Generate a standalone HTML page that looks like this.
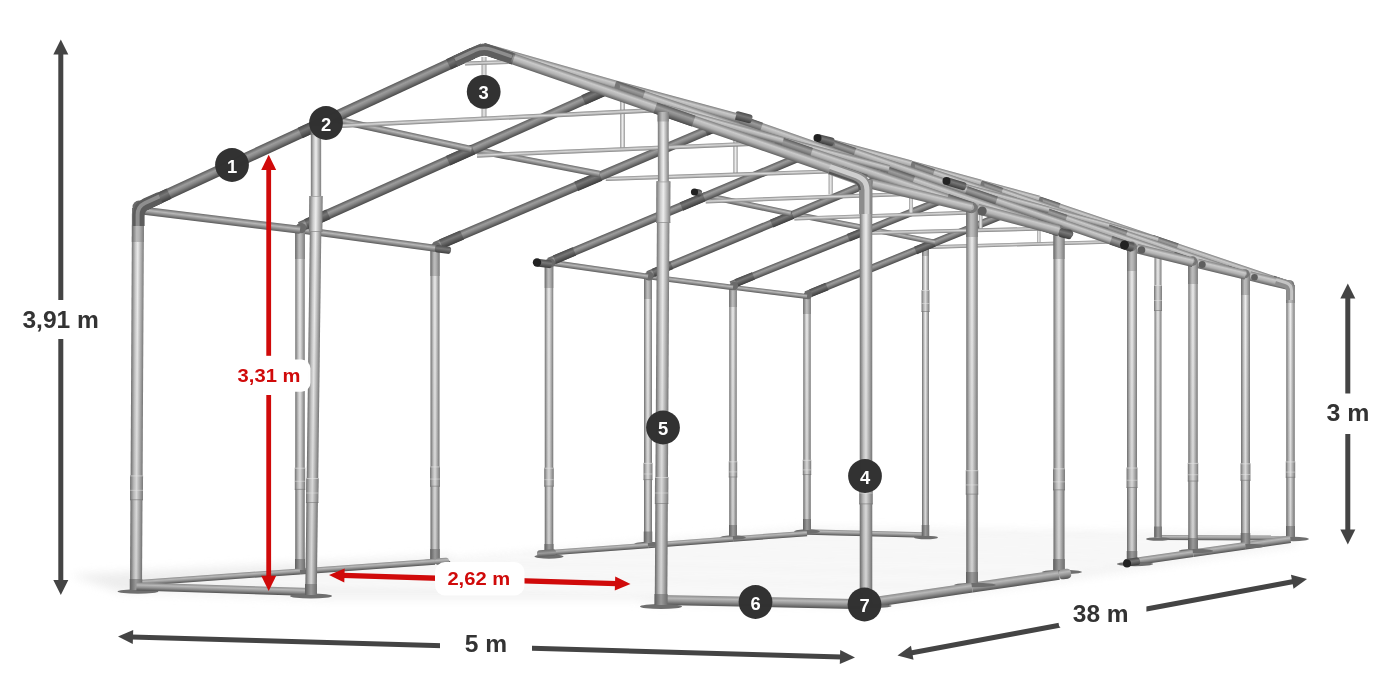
<!DOCTYPE html>
<html><head><meta charset="utf-8"><title>3,91 m</title>
<style>
html,body{margin:0;padding:0;background:#fff}
body{width:1400px;height:700px;overflow:hidden}
svg{display:block}
text{font-family:"Liberation Sans",sans-serif;font-weight:bold}
#labels{opacity:.999}
</style></head><body>
<svg width="1400" height="700" viewBox="0 0 1400 700">
<defs>
<linearGradient id="g_dark" x1="0" y1="0" x2="0" y2="1"><stop offset="0" stop-color="#5a5a5a"/><stop offset="0.35" stop-color="#9c9c9c"/><stop offset="0.55" stop-color="#8a8a8a"/><stop offset="1" stop-color="#4a4a4a"/></linearGradient>
<linearGradient id="g_joint" x1="0" y1="0" x2="0" y2="1"><stop offset="0" stop-color="#4a4a4a"/><stop offset="0.4" stop-color="#777"/><stop offset="1" stop-color="#3c3c3c"/></linearGradient>
<linearGradient id="g_rafr" x1="0" y1="0" x2="0" y2="1"><stop offset="0" stop-color="#808080"/><stop offset="0.3" stop-color="#cacaca"/><stop offset="0.6" stop-color="#b0b0b0"/><stop offset="1" stop-color="#626262"/></linearGradient>
<linearGradient id="g_eave" x1="0" y1="0" x2="0" y2="1"><stop offset="0" stop-color="#6a6a6a"/><stop offset="0.4" stop-color="#b8b8b8"/><stop offset="1" stop-color="#5c5c5c"/></linearGradient>
<linearGradient id="g_ground" x1="0" y1="0" x2="0" y2="1"><stop offset="0" stop-color="#8c8c8c"/><stop offset="0.3" stop-color="#b8b8b8"/><stop offset="0.6" stop-color="#929292"/><stop offset="1" stop-color="#525252"/></linearGradient>
<linearGradient id="g_tie" x1="0" y1="0" x2="0" y2="1"><stop offset="0" stop-color="#8a8a8a"/><stop offset="0.45" stop-color="#d8d8d8"/><stop offset="1" stop-color="#808080"/></linearGradient>
<linearGradient id="g_tiev" x1="0" y1="0" x2="0" y2="1"><stop offset="0" stop-color="#9a9a9a"/><stop offset="0.5" stop-color="#ececec"/><stop offset="1" stop-color="#9a9a9a"/></linearGradient>
<linearGradient id="g_post" x1="0" y1="0" x2="0" y2="1"><stop offset="0" stop-color="#7c7c7c"/><stop offset="0.22" stop-color="#b0b0b0"/><stop offset="0.5" stop-color="#ededed"/><stop offset="0.7" stop-color="#cacaca"/><stop offset="1" stop-color="#747474"/></linearGradient>
<linearGradient id="g_sleeve" x1="0" y1="0" x2="0" y2="1"><stop offset="0" stop-color="#7c7c7c"/><stop offset="0.4" stop-color="#b4b4b4"/><stop offset="0.6" stop-color="#bcbcbc"/><stop offset="1" stop-color="#6a6a6a"/></linearGradient>
<linearGradient id="g_ring" x1="0" y1="0" x2="0" y2="1"><stop offset="0" stop-color="#7a7a7a"/><stop offset="0.25" stop-color="#a8a8a8"/><stop offset="0.5" stop-color="#d8d8d8"/><stop offset="0.72" stop-color="#b8b8b8"/><stop offset="1" stop-color="#727272"/></linearGradient>
<linearGradient id="g_shade" x1="0" y1="0" x2="0" y2="1"><stop offset="0" stop-color="#000" stop-opacity="0"/><stop offset="0.25" stop-color="#000" stop-opacity="0.02"/><stop offset="1" stop-color="#000" stop-opacity="0.11"/></linearGradient>
<linearGradient id="g_foot" x1="0" y1="0" x2="0" y2="1"><stop offset="0" stop-color="#6e6e6e"/><stop offset="0.5" stop-color="#9a9a9a"/><stop offset="1" stop-color="#5e5e5e"/></linearGradient>
<filter id="blur" x="-10%" y="-30%" width="120%" height="160%"><feGaussianBlur stdDeviation="5"/></filter>
<filter id="blur2" x="-10%" y="-30%" width="120%" height="160%"><feGaussianBlur stdDeviation="2.5"/></filter>
</defs>
<rect width="1400" height="700" fill="#fff"/>
<g filter="url(#blur)" opacity="0.9">
<polygon points="70,575 447,556 470,562 330,597 120,592" fill="#ebebeb"/>
<polygon points="300,572 807,528 1290,534 1300,545 1068,580 880,606 650,604 560,575 450,572" fill="#f2f2f2"/><polygon points="120,592 450,562 700,575 640,600 330,600" fill="#f2f2f2"/>
</g>
<g filter="url(#blur2)" opacity="0.85">
<polygon points="173.6,580.4 889.3,599.8 906.3,597.3 199.6,578.6" fill="#fff"/>
<polygon points="227.1,576.6 924.3,594.6 939.1,592.4 249.8,575.0" fill="#fff"/>
<polygon points="275.7,573.1 956.1,589.9 966.7,588.4 291.9,572.0" fill="#fff"/>
<polygon points="329.7,569.3 991.1,584.8 1005.1,582.8 351.3,567.8" fill="#fff"/>
<polygon points="374.2,566.1 1019.9,580.6 1032.0,578.8 393.1,564.8" fill="#fff"/>
<polygon points="414.8,563.2 1046.0,576.8 1054.7,575.5 428.2,562.3" fill="#fff"/>
<polygon points="460.1,559.8 1075.1,572.1 1086.7,570.0 478.3,558.4" fill="#fff"/>
<polygon points="497.7,556.8 1099.2,567.8 1109.4,566.0 513.7,555.6" fill="#fff"/>
<polygon points="531.9,554.1 1121.0,563.9 1128.3,562.6 543.3,553.2" fill="#fff"/>
<polygon points="570.8,551.2 1145.4,560.1 1155.2,558.7 586.6,550.0" fill="#fff"/>
<polygon points="603.5,548.7 1165.5,557.2 1174.1,556.0 617.3,547.7" fill="#fff"/>
<polygon points="633.1,546.5 1183.8,554.6 1190.0,553.7 643.0,545.8" fill="#fff"/>
<polygon points="666.7,544.0 1204.5,551.6 1213.0,550.4 680.3,543.0" fill="#fff"/>
<polygon points="694.8,541.9 1221.9,549.1 1229.2,548.1 706.6,541.0" fill="#fff"/>
<polygon points="720.2,540.0 1237.6,546.8 1242.9,546.1 728.8,539.3" fill="#fff"/>
<polygon points="749.3,537.8 1255.4,544.3 1262.6,543.3 761.1,536.9" fill="#fff"/>
<polygon points="773.7,536.0 1270.2,542.2 1276.5,541.3 784.1,535.2" fill="#fff"/>
<polygon points="795.9,534.3 1283.8,540.3 1288.2,539.6 803.3,533.8" fill="#fff"/>
</g>
<rect x="0" y="-2.75" width="118.04" height="5.50" rx="0" fill="url(#g_ground)" transform="translate(807.00,532.00) rotate(1.456)"/>
<rect x="0" y="-2.50" width="132.00" height="5.00" rx="0" fill="url(#g_ground)" transform="translate(1158.00,537.50) rotate(0.217)"/>
<ellipse cx="926.0" cy="537.5" rx="12" ry="1.8" fill="#6e6e6e"/>
<ellipse cx="1158.0" cy="539.0" rx="12" ry="1.8" fill="#6e6e6e"/>
<rect x="0" y="-3.50" width="290.00" height="7.00" rx="0" fill="url(#g_post)" transform="translate(925.50,246.00) rotate(90.000)"/>
<polygon points="922.00,246.00 929.00,246.00 929.00,536.00 922.00,536.00" fill="url(#g_shade)"/>
<rect x="0" y="-3.50" width="10.00" height="7.00" rx="0" fill="url(#g_sleeve)" transform="translate(925.50,246.00) rotate(90.000)"/>
<rect x="0" y="-3.95" width="22.00" height="7.90" rx="0" fill="url(#g_ring)" transform="translate(925.50,290.00) rotate(90.000)"/>
<rect x="921.55" y="290.00" width="7.90" height="1" fill="#e8e8e8" opacity=".55"/>
<rect x="921.55" y="303.00" width="7.90" height="1" fill="#e8e8e8" opacity=".45"/>
<rect x="921.55" y="311.00" width="7.90" height="1" fill="#6a6a6a" opacity=".5"/>
<rect x="0" y="-3.75" width="11.00" height="7.50" rx="0" fill="url(#g_foot)" transform="translate(925.50,525.00) rotate(90.000)"/>
<rect x="0" y="-3.50" width="295.50" height="7.00" rx="0" fill="url(#g_post)" transform="translate(1158.00,242.00) rotate(90.000)"/>
<polygon points="1154.50,242.00 1161.50,242.00 1161.50,537.50 1154.50,537.50" fill="url(#g_shade)"/>
<rect x="0" y="-3.50" width="10.00" height="7.00" rx="0" fill="url(#g_sleeve)" transform="translate(1158.00,242.00) rotate(90.000)"/>
<rect x="0" y="-3.95" width="26.00" height="7.90" rx="0" fill="url(#g_ring)" transform="translate(1158.00,285.00) rotate(90.000)"/>
<rect x="1154.05" y="285.00" width="7.90" height="1" fill="#e8e8e8" opacity=".55"/>
<rect x="1154.05" y="300.00" width="7.90" height="1" fill="#e8e8e8" opacity=".45"/>
<rect x="1154.05" y="310.00" width="7.90" height="1" fill="#6a6a6a" opacity=".5"/>
<rect x="0" y="-3.75" width="11.00" height="7.50" rx="0" fill="url(#g_foot)" transform="translate(1158.00,526.50) rotate(90.000)"/>
<rect x="0" y="-1.75" width="38.60" height="3.50" rx="0" fill="url(#g_tiev)" transform="translate(1038.80,205.00) rotate(90.000)"/>
<rect x="0" y="-1.84" width="229.49" height="3.68" rx="0" fill="url(#g_tie)" transform="translate(928.60,247.10) rotate(-1.648)"/>
<ellipse cx="807.0" cy="531.5" rx="12.75" ry="2.2" fill="#6e6e6e"/>
<ellipse cx="1293.5" cy="539.0" rx="15.3" ry="2.2" fill="#6e6e6e"/>
<rect x="0" y="-3.75" width="234.00" height="7.50" rx="0" fill="url(#g_post)" transform="translate(807.00,296.00) rotate(90.000)"/>
<polygon points="803.25,296.00 810.75,296.00 810.75,530.00 803.25,530.00" fill="url(#g_shade)"/>
<rect x="0" y="-3.75" width="18.00" height="7.50" rx="0" fill="url(#g_sleeve)" transform="translate(807.00,296.00) rotate(90.000)"/>
<rect x="0" y="-4.20" width="15.21" height="8.40" rx="0" fill="url(#g_ring)" transform="translate(807.00,459.80) rotate(90.000)"/>
<rect x="802.80" y="459.80" width="8.40" height="1" fill="#e8e8e8" opacity=".55"/>
<rect x="802.80" y="469.40" width="8.40" height="1" fill="#e8e8e8" opacity=".45"/>
<rect x="802.80" y="474.01" width="8.40" height="1" fill="#6a6a6a" opacity=".5"/>
<rect x="0" y="-4.00" width="11.00" height="8.00" rx="0" fill="url(#g_foot)" transform="translate(807.00,519.00) rotate(90.000)"/>
<rect x="0" y="-4.25" width="252.00" height="8.50" rx="0" fill="url(#g_post)" transform="translate(1290.50,285.00) rotate(90.000)"/>
<polygon points="1286.25,285.00 1294.75,285.00 1294.75,537.00 1286.25,537.00" fill="url(#g_shade)"/>
<rect x="0" y="-4.25" width="18.00" height="8.50" rx="0" fill="url(#g_sleeve)" transform="translate(1290.50,285.00) rotate(90.000)"/>
<rect x="0" y="-4.70" width="16.38" height="9.40" rx="0" fill="url(#g_ring)" transform="translate(1290.50,461.40) rotate(90.000)"/>
<rect x="1285.80" y="461.40" width="9.40" height="1" fill="#e8e8e8" opacity=".55"/>
<rect x="1285.80" y="471.59" width="9.40" height="1" fill="#e8e8e8" opacity=".45"/>
<rect x="1285.80" y="476.78" width="9.40" height="1" fill="#6a6a6a" opacity=".5"/>
<rect x="0" y="-4.50" width="11.00" height="9.00" rx="0" fill="url(#g_foot)" transform="translate(1290.50,526.00) rotate(90.000)"/>
<rect x="0" y="-3.75" width="251.51" height="7.50" rx="0" fill="url(#g_dark)" transform="translate(806.00,295.00) rotate(-22.119)"/>
<rect x="0" y="-3.95" width="17.61" height="7.90" rx="0" fill="url(#g_joint)" transform="translate(810.66,293.11) rotate(-22.119)"/>
<rect x="0" y="-3.95" width="20.12" height="7.90" rx="0" fill="url(#g_joint)" transform="translate(915.51,250.49) rotate(-22.119)"/>
<rect x="0" y="-3.95" width="17.61" height="7.90" rx="0" fill="url(#g_joint)" transform="translate(1015.70,209.77) rotate(-22.119)"/>
<rect x="0" y="-3.75" width="265.54" height="7.50" rx="0" fill="url(#g_rafr)" transform="translate(1039.00,200.30) rotate(18.715)"/>
<rect x="0" y="-3.95" width="21.24" height="7.90" rx="0" fill="url(#g_dark)" transform="translate(1039.00,200.30) rotate(18.715)"/>
<rect x="0" y="-3.95" width="26.55" height="7.90" rx="0" fill="url(#g_dark)" transform="translate(1152.17,238.64) rotate(18.715)"/>
<rect x="0" y="-3.95" width="18.59" height="7.90" rx="0" fill="url(#g_dark)" transform="translate(1272.89,279.54) rotate(18.715)"/>
<circle cx="808.0" cy="295.0" r="4.2" fill="#6a6a6a"/>
<circle cx="1290.0" cy="284.5" r="4.2" fill="#777"/>
<circle cx="1289.7" cy="284.2" r="2.1" fill="#a8a8a8"/>
<circle cx="1039.0" cy="200.8" r="3.8" fill="#777"/>
<rect x="0" y="-2.50" width="70.77" height="5.00" rx="0" fill="url(#g_eave)" transform="translate(736.75,287.86) rotate(6.934)"/>
<rect x="0" y="-2.75" width="74.20" height="5.50" rx="0" fill="url(#g_ground)" transform="translate(733.00,539.00) rotate(-4.251)"/>
<rect x="0" y="-3.75" width="45.45" height="7.50" rx="0" fill="url(#g_ground)" transform="translate(1245.50,545.70) rotate(-8.094)"/>
<rect x="0" y="-2.62" width="71.45" height="5.25" rx="0" fill="url(#g_eave)" transform="translate(865.00,228.00) rotate(11.546)"/>
<rect x="0" y="-3.75" width="60.40" height="7.50" rx="0" fill="url(#g_rafr)" transform="translate(980.70,183.50) rotate(15.164)"/>
<rect x="0" y="-3.00" width="50.96" height="6.00" rx="0" fill="url(#g_rafr)" transform="translate(1109.00,226.00) rotate(15.945)"/>
<rect x="0" y="-4.75" width="41.65" height="9.50" rx="0" fill="url(#g_rafr)" transform="translate(1250.00,276.00) rotate(13.469)"/>
<rect x="0" y="-1.85" width="39.30" height="3.70" rx="0" fill="url(#g_tiev)" transform="translate(980.70,190.00) rotate(90.000)"/>
<rect x="0" y="-1.90" width="237.07" height="3.80" rx="0" fill="url(#g_tie)" transform="translate(872.00,232.90) rotate(-1.426)"/>
<ellipse cx="733.0" cy="537.5" rx="12.75" ry="2.2" fill="#6e6e6e"/>
<ellipse cx="1248.5" cy="546.0" rx="16.2" ry="2.2" fill="#6e6e6e"/>
<rect x="0" y="-3.75" width="249.00" height="7.50" rx="0" fill="url(#g_post)" transform="translate(733.00,287.00) rotate(90.000)"/>
<polygon points="729.25,287.00 736.75,287.00 736.75,536.00 729.25,536.00" fill="url(#g_shade)"/>
<rect x="0" y="-3.75" width="20.00" height="7.50" rx="0" fill="url(#g_sleeve)" transform="translate(733.00,287.00) rotate(90.000)"/>
<rect x="0" y="-4.20" width="16.19" height="8.40" rx="0" fill="url(#g_ring)" transform="translate(733.00,461.30) rotate(90.000)"/>
<rect x="728.80" y="461.30" width="8.40" height="1" fill="#e8e8e8" opacity=".55"/>
<rect x="728.80" y="471.39" width="8.40" height="1" fill="#e8e8e8" opacity=".45"/>
<rect x="728.80" y="476.49" width="8.40" height="1" fill="#6a6a6a" opacity=".5"/>
<rect x="0" y="-4.00" width="11.00" height="8.00" rx="0" fill="url(#g_foot)" transform="translate(733.00,525.00) rotate(90.000)"/>
<rect x="0" y="-4.50" width="269.00" height="9.00" rx="0" fill="url(#g_post)" transform="translate(1245.50,275.00) rotate(90.000)"/>
<polygon points="1241.00,275.00 1250.00,275.00 1250.00,544.00 1241.00,544.00" fill="url(#g_shade)"/>
<rect x="0" y="-4.50" width="20.00" height="9.00" rx="0" fill="url(#g_sleeve)" transform="translate(1245.50,275.00) rotate(90.000)"/>
<rect x="0" y="-4.95" width="17.49" height="9.90" rx="0" fill="url(#g_ring)" transform="translate(1245.50,463.30) rotate(90.000)"/>
<rect x="1240.55" y="463.30" width="9.90" height="1" fill="#e8e8e8" opacity=".55"/>
<rect x="1240.55" y="474.04" width="9.90" height="1" fill="#e8e8e8" opacity=".45"/>
<rect x="1240.55" y="479.78" width="9.90" height="1" fill="#6a6a6a" opacity=".5"/>
<rect x="0" y="-4.75" width="11.00" height="9.50" rx="0" fill="url(#g_foot)" transform="translate(1245.50,533.00) rotate(90.000)"/>
<rect x="0" y="-3.75" width="269.17" height="7.50" rx="0" fill="url(#g_dark)" transform="translate(731.00,285.00) rotate(-21.924)"/>
<rect x="0" y="-3.95" width="18.84" height="7.90" rx="0" fill="url(#g_joint)" transform="translate(735.99,282.99) rotate(-21.924)"/>
<rect x="0" y="-3.95" width="21.53" height="7.90" rx="0" fill="url(#g_joint)" transform="translate(848.36,237.76) rotate(-21.924)"/>
<rect x="0" y="-3.95" width="18.84" height="7.90" rx="0" fill="url(#g_joint)" transform="translate(955.73,194.55) rotate(-21.924)"/>
<rect x="0" y="-3.75" width="280.00" height="7.50" rx="0" fill="url(#g_rafr)" transform="translate(980.70,184.50) rotate(18.966)"/>
<rect x="0" y="-3.95" width="22.40" height="7.90" rx="0" fill="url(#g_dark)" transform="translate(980.70,184.50) rotate(18.966)"/>
<rect x="0" y="-3.95" width="28.00" height="7.90" rx="0" fill="url(#g_dark)" transform="translate(1099.86,225.45) rotate(18.966)"/>
<rect x="0" y="-3.95" width="19.60" height="7.90" rx="0" fill="url(#g_dark)" transform="translate(1226.96,269.13) rotate(18.966)"/>
<circle cx="734.0" cy="286.0" r="4.2" fill="#6a6a6a"/>
<circle cx="1245.0" cy="273.8" r="4.5" fill="#777"/>
<circle cx="1244.7" cy="273.5" r="2.2" fill="#a8a8a8"/>
<circle cx="1254.5" cy="277.3" r="3.3" fill="#5e5e5e"/>
<circle cx="980.7" cy="185.0" r="3.8" fill="#777"/>
<rect x="0" y="-2.75" width="81.65" height="5.50" rx="0" fill="url(#g_eave)" transform="translate(652.00,277.11) rotate(7.241)"/>
<rect x="0" y="-2.75" width="85.24" height="5.50" rx="0" fill="url(#g_ground)" transform="translate(648.00,545.40) rotate(-4.306)"/>
<rect x="0" y="-3.75" width="53.05" height="7.50" rx="0" fill="url(#g_ground)" transform="translate(1193.00,553.30) rotate(-8.237)"/>
<rect x="0" y="-2.80" width="75.68" height="5.60" rx="0" fill="url(#g_eave)" transform="translate(790.70,213.60) rotate(10.968)"/>
<rect x="0" y="-3.95" width="72.24" height="7.90" rx="0" fill="url(#g_rafr)" transform="translate(911.00,164.50) rotate(15.248)"/>
<rect x="0" y="-3.20" width="62.10" height="6.40" rx="0" fill="url(#g_rafr)" transform="translate(1049.00,210.00) rotate(14.931)"/>
<rect x="0" y="-4.75" width="49.16" height="9.50" rx="0" fill="url(#g_rafr)" transform="translate(1197.75,263.30) rotate(13.768)"/>
<rect x="0" y="-2.00" width="43.60" height="4.00" rx="0" fill="url(#g_tiev)" transform="translate(911.00,170.00) rotate(90.000)"/>
<rect x="0" y="-1.96" width="254.85" height="3.92" rx="0" fill="url(#g_tie)" transform="translate(794.30,218.60) rotate(-1.934)"/>
<ellipse cx="648.0" cy="544.0" rx="13.6" ry="2.2" fill="#6e6e6e"/>
<ellipse cx="1196.0" cy="551.0" rx="17.1" ry="2.2" fill="#6e6e6e"/>
<rect x="0" y="-4.00" width="265.50" height="8.00" rx="0" fill="url(#g_post)" transform="translate(648.00,277.00) rotate(90.000)"/>
<polygon points="644.00,277.00 652.00,277.00 652.00,542.50 644.00,542.50" fill="url(#g_shade)"/>
<rect x="0" y="-4.00" width="22.00" height="8.00" rx="0" fill="url(#g_sleeve)" transform="translate(648.00,277.00) rotate(90.000)"/>
<rect x="0" y="-4.45" width="17.26" height="8.90" rx="0" fill="url(#g_ring)" transform="translate(648.00,462.85) rotate(90.000)"/>
<rect x="643.55" y="462.85" width="8.90" height="1" fill="#e8e8e8" opacity=".55"/>
<rect x="643.55" y="473.48" width="8.90" height="1" fill="#e8e8e8" opacity=".45"/>
<rect x="643.55" y="479.11" width="8.90" height="1" fill="#6a6a6a" opacity=".5"/>
<rect x="0" y="-4.25" width="11.00" height="8.50" rx="0" fill="url(#g_foot)" transform="translate(648.00,531.50) rotate(90.000)"/>
<rect x="0" y="-4.75" width="287.00" height="9.50" rx="0" fill="url(#g_post)" transform="translate(1193.00,262.00) rotate(90.000)"/>
<polygon points="1188.25,262.00 1197.75,262.00 1197.75,549.00 1188.25,549.00" fill="url(#g_shade)"/>
<rect x="0" y="-4.75" width="22.00" height="9.50" rx="0" fill="url(#g_sleeve)" transform="translate(1193.00,262.00) rotate(90.000)"/>
<rect x="0" y="-5.20" width="18.66" height="10.40" rx="0" fill="url(#g_ring)" transform="translate(1193.00,462.90) rotate(90.000)"/>
<rect x="1187.80" y="462.90" width="10.40" height="1" fill="#e8e8e8" opacity=".55"/>
<rect x="1187.80" y="474.23" width="10.40" height="1" fill="#e8e8e8" opacity=".45"/>
<rect x="1187.80" y="480.56" width="10.40" height="1" fill="#6a6a6a" opacity=".5"/>
<rect x="0" y="-5.00" width="11.00" height="10.00" rx="0" fill="url(#g_foot)" transform="translate(1193.00,538.00) rotate(90.000)"/>
<rect x="0" y="-4.00" width="284.88" height="8.00" rx="0" fill="url(#g_dark)" transform="translate(648.00,275.00) rotate(-22.604)"/>
<rect x="0" y="-4.20" width="19.94" height="8.40" rx="0" fill="url(#g_joint)" transform="translate(653.26,272.81) rotate(-22.604)"/>
<rect x="0" y="-4.20" width="22.79" height="8.40" rx="0" fill="url(#g_joint)" transform="translate(771.61,223.53) rotate(-22.604)"/>
<rect x="0" y="-4.20" width="19.94" height="8.40" rx="0" fill="url(#g_joint)" transform="translate(884.70,176.45) rotate(-22.604)"/>
<rect x="0" y="-4.00" width="298.22" height="8.00" rx="0" fill="url(#g_rafr)" transform="translate(911.00,165.50) rotate(18.982)"/>
<rect x="0" y="-4.20" width="23.86" height="8.40" rx="0" fill="url(#g_dark)" transform="translate(911.00,165.50) rotate(18.982)"/>
<rect x="0" y="-4.20" width="29.82" height="8.40" rx="0" fill="url(#g_dark)" transform="translate(1037.90,209.15) rotate(18.982)"/>
<rect x="0" y="-4.20" width="20.88" height="8.40" rx="0" fill="url(#g_dark)" transform="translate(1173.26,255.71) rotate(18.982)"/>
<circle cx="649.0" cy="276.0" r="4.5" fill="#6a6a6a"/>
<circle cx="1192.5" cy="261.1" r="4.8" fill="#777"/>
<circle cx="1192.2" cy="260.8" r="2.4" fill="#a8a8a8"/>
<circle cx="1202.2" cy="264.6" r="3.5" fill="#5e5e5e"/>
<circle cx="911.0" cy="166.0" r="4.0" fill="#777"/>
<rect x="0" y="-3.00" width="95.72" height="6.00" rx="0" fill="url(#g_eave)" transform="translate(553.25,263.01) rotate(8.163)"/>
<rect x="0" y="-2.75" width="99.28" height="5.50" rx="0" fill="url(#g_ground)" transform="translate(549.00,552.80) rotate(-4.275)"/>
<rect x="0" y="-3.75" width="61.62" height="7.50" rx="0" fill="url(#g_ground)" transform="translate(1132.00,562.00) rotate(-8.117)"/>
<rect x="0" y="-2.98" width="89.75" height="5.95" rx="0" fill="url(#g_eave)" transform="translate(702.90,195.00) rotate(11.961)"/>
<rect x="0" y="-4.15" width="83.13" height="8.30" rx="0" fill="url(#g_rafr)" transform="translate(830.70,143.00) rotate(14.989)"/>
<rect x="0" y="-3.40" width="88.06" height="6.80" rx="0" fill="url(#g_rafr)" transform="translate(964.00,187.00) rotate(15.141)"/>
<rect x="0" y="-4.75" width="57.63" height="9.50" rx="0" fill="url(#g_rafr)" transform="translate(1137.00,248.70) rotate(13.650)"/>
<rect x="0" y="-2.15" width="44.50" height="4.30" rx="0" fill="url(#g_tiev)" transform="translate(830.70,150.00) rotate(90.000)"/>
<rect x="0" y="-2.02" width="258.47" height="4.04" rx="0" fill="url(#g_tie)" transform="translate(705.70,201.40) rotate(-2.084)"/>
<ellipse cx="549.0" cy="556.5" rx="14.45" ry="2.2" fill="#6e6e6e"/>
<ellipse cx="1135.0" cy="564.0" rx="18.0" ry="2.2" fill="#6e6e6e"/>
<rect x="0" y="-4.25" width="291.00" height="8.50" rx="0" fill="url(#g_post)" transform="translate(549.00,264.00) rotate(90.000)"/>
<polygon points="544.75,264.00 553.25,264.00 553.25,555.00 544.75,555.00" fill="url(#g_shade)"/>
<rect x="0" y="-4.25" width="24.00" height="8.50" rx="0" fill="url(#g_sleeve)" transform="translate(549.00,264.00) rotate(90.000)"/>
<rect x="0" y="-4.70" width="18.92" height="9.40" rx="0" fill="url(#g_ring)" transform="translate(549.00,467.70) rotate(90.000)"/>
<rect x="544.30" y="467.70" width="9.40" height="1" fill="#e8e8e8" opacity=".55"/>
<rect x="544.30" y="479.16" width="9.40" height="1" fill="#e8e8e8" opacity=".45"/>
<rect x="544.30" y="485.62" width="9.40" height="1" fill="#6a6a6a" opacity=".5"/>
<rect x="0" y="-4.50" width="11.00" height="9.00" rx="0" fill="url(#g_foot)" transform="translate(549.00,544.00) rotate(90.000)"/>
<rect x="0" y="-5.00" width="315.00" height="10.00" rx="0" fill="url(#g_post)" transform="translate(1132.00,247.00) rotate(90.000)"/>
<polygon points="1127.00,247.00 1137.00,247.00 1137.00,562.00 1127.00,562.00" fill="url(#g_shade)"/>
<rect x="0" y="-5.00" width="24.00" height="10.00" rx="0" fill="url(#g_sleeve)" transform="translate(1132.00,247.00) rotate(90.000)"/>
<rect x="0" y="-5.45" width="20.48" height="10.90" rx="0" fill="url(#g_ring)" transform="translate(1132.00,467.50) rotate(90.000)"/>
<rect x="1126.55" y="467.50" width="10.90" height="1" fill="#e8e8e8" opacity=".55"/>
<rect x="1126.55" y="479.74" width="10.90" height="1" fill="#e8e8e8" opacity=".45"/>
<rect x="1126.55" y="486.98" width="10.90" height="1" fill="#6a6a6a" opacity=".5"/>
<rect x="0" y="-5.25" width="11.00" height="10.50" rx="0" fill="url(#g_foot)" transform="translate(1132.00,551.00) rotate(90.000)"/>
<rect x="0" y="-4.25" width="305.42" height="8.50" rx="0" fill="url(#g_dark)" transform="translate(549.00,262.00) rotate(-22.728)"/>
<rect x="0" y="-4.45" width="21.38" height="8.90" rx="0" fill="url(#g_joint)" transform="translate(554.63,259.64) rotate(-22.728)"/>
<rect x="0" y="-4.45" width="24.43" height="8.90" rx="0" fill="url(#g_joint)" transform="translate(681.40,206.54) rotate(-22.728)"/>
<rect x="0" y="-4.45" width="21.38" height="8.90" rx="0" fill="url(#g_joint)" transform="translate(802.53,155.80) rotate(-22.728)"/>
<rect x="0" y="-4.25" width="318.58" height="8.50" rx="0" fill="url(#g_rafr)" transform="translate(830.70,144.00) rotate(18.958)"/>
<rect x="0" y="-4.45" width="25.49" height="8.90" rx="0" fill="url(#g_dark)" transform="translate(830.70,144.00) rotate(18.958)"/>
<rect x="0" y="-4.45" width="31.86" height="8.90" rx="0" fill="url(#g_dark)" transform="translate(966.29,190.57) rotate(18.958)"/>
<rect x="0" y="-4.45" width="22.30" height="8.90" rx="0" fill="url(#g_dark)" transform="translate(1110.91,240.25) rotate(18.958)"/>
<circle cx="550.0" cy="263.0" r="4.8" fill="#6a6a6a"/>
<circle cx="1131.5" cy="246.5" r="5.0" fill="#777"/>
<circle cx="1131.2" cy="246.2" r="2.5" fill="#a8a8a8"/>
<circle cx="1141.5" cy="250.0" r="3.8" fill="#5e5e5e"/>
<circle cx="830.7" cy="144.5" r="4.2" fill="#777"/>
<rect x="0" y="-4.00" width="16.12" height="8.00" rx="3" fill="url(#g_joint)" transform="translate(536.00,262.50) rotate(7.125)"/>
<circle cx="537" cy="262.5" r="4.2" fill="#222"/>
<rect x="0" y="-3.50" width="8.14" height="7.00" rx="3" fill="url(#g_joint)" transform="translate(694.00,192.00) rotate(10.620)"/>
<circle cx="694.5" cy="192" r="3.6" fill="#222"/>
<rect x="0" y="-4.25" width="17.59" height="8.50" rx="3" fill="url(#g_joint)" transform="translate(817.00,138.00) rotate(14.826)"/>
<circle cx="817.5" cy="138" r="4" fill="#222"/>
<rect x="0" y="-4.00" width="20.88" height="8.00" rx="3" fill="url(#g_joint)" transform="translate(946.00,181.00) rotate(16.699)"/>
<circle cx="946.5" cy="181" r="4" fill="#222"/>
<rect x="0" y="-4.50" width="10.31" height="9.00" rx="3" fill="url(#g_joint)" transform="translate(1124.00,245.00) rotate(14.036)"/>
<circle cx="1124.5" cy="245" r="4.5" fill="#222"/>
<rect x="0" y="-3.75" width="16.16" height="7.50" rx="3" fill="url(#g_joint)" transform="translate(1124.00,563.20) rotate(-8.180)"/>
<circle cx="1127" cy="563.5" r="4" fill="#222"/>
<rect x="0" y="-3.25" width="19.05" height="6.50" rx="3" fill="url(#g_foot)" transform="translate(537.00,553.70) rotate(-4.214)"/>
<rect x="0" y="-2.25" width="49.50" height="4.50" rx="0" fill="url(#g_tiev)" transform="translate(735.50,125.00) rotate(90.000)"/>
<rect x="0" y="-2.08" width="283.46" height="4.16" rx="0" fill="url(#g_tie)" transform="translate(605.70,179.00) rotate(-1.921)"/>
<ellipse cx="435.0" cy="561.5" rx="15.299999999999999" ry="2.2" fill="#6e6e6e"/>
<ellipse cx="1062.0" cy="572.0" rx="19.8" ry="2.2" fill="#6e6e6e"/>
<rect x="0" y="-4.50" width="312.00" height="9.00" rx="0" fill="url(#g_post)" transform="translate(435.00,248.00) rotate(90.000)"/>
<polygon points="430.50,248.00 439.50,248.00 439.50,560.00 430.50,560.00" fill="url(#g_shade)"/>
<rect x="0" y="-4.50" width="28.00" height="9.00" rx="0" fill="url(#g_sleeve)" transform="translate(435.00,248.00) rotate(90.000)"/>
<rect x="0" y="-4.95" width="20.28" height="9.90" rx="0" fill="url(#g_ring)" transform="translate(435.00,466.40) rotate(90.000)"/>
<rect x="430.05" y="466.40" width="9.90" height="1" fill="#e8e8e8" opacity=".55"/>
<rect x="430.05" y="478.54" width="9.90" height="1" fill="#e8e8e8" opacity=".45"/>
<rect x="430.05" y="485.68" width="9.90" height="1" fill="#6a6a6a" opacity=".5"/>
<rect x="0" y="-4.75" width="11.00" height="9.50" rx="0" fill="url(#g_foot)" transform="translate(435.00,549.00) rotate(90.000)"/>
<rect x="0" y="-5.50" width="339.00" height="11.00" rx="0" fill="url(#g_post)" transform="translate(1059.00,231.00) rotate(90.000)"/>
<polygon points="1053.50,231.00 1064.50,231.00 1064.50,570.00 1053.50,570.00" fill="url(#g_shade)"/>
<rect x="0" y="-5.50" width="28.00" height="11.00" rx="0" fill="url(#g_sleeve)" transform="translate(1059.00,231.00) rotate(90.000)"/>
<rect x="0" y="-5.95" width="22.04" height="11.90" rx="0" fill="url(#g_ring)" transform="translate(1059.00,468.30) rotate(90.000)"/>
<rect x="1053.05" y="468.30" width="11.90" height="1" fill="#e8e8e8" opacity=".55"/>
<rect x="1053.05" y="481.32" width="11.90" height="1" fill="#e8e8e8" opacity=".45"/>
<rect x="1053.05" y="489.33" width="11.90" height="1" fill="#6a6a6a" opacity=".5"/>
<rect x="0" y="-5.75" width="11.00" height="11.50" rx="0" fill="url(#g_foot)" transform="translate(1059.00,559.00) rotate(90.000)"/>
<rect x="0" y="-4.75" width="326.63" height="9.50" rx="0" fill="url(#g_dark)" transform="translate(435.00,246.50) rotate(-23.072)"/>
<rect x="0" y="-4.95" width="22.86" height="9.90" rx="0" fill="url(#g_joint)" transform="translate(441.01,243.94) rotate(-23.072)"/>
<rect x="0" y="-4.95" width="26.13" height="9.90" rx="0" fill="url(#g_joint)" transform="translate(576.24,186.34) rotate(-23.072)"/>
<rect x="0" y="-4.95" width="22.86" height="9.90" rx="0" fill="url(#g_joint)" transform="translate(705.45,131.30) rotate(-23.072)"/>
<rect x="0" y="-4.75" width="342.67" height="9.50" rx="0" fill="url(#g_rafr)" transform="translate(735.50,118.50) rotate(19.255)"/>
<rect x="0" y="-4.95" width="27.41" height="9.90" rx="0" fill="url(#g_dark)" transform="translate(735.50,118.50) rotate(19.255)"/>
<rect x="0" y="-4.95" width="34.27" height="9.90" rx="0" fill="url(#g_dark)" transform="translate(881.08,169.35) rotate(19.255)"/>
<rect x="0" y="-4.95" width="23.99" height="9.90" rx="0" fill="url(#g_dark)" transform="translate(1036.36,223.59) rotate(19.255)"/>
<circle cx="436.0" cy="247.0" r="5.0" fill="#6a6a6a"/>
<circle cx="1058.5" cy="230.0" r="5.5" fill="#777"/>
<circle cx="1058.2" cy="229.7" r="2.8" fill="#a8a8a8"/>
<circle cx="1069.0" cy="233.5" r="4.3" fill="#5e5e5e"/>
<circle cx="735.5" cy="119.0" r="4.8" fill="#777"/>
<rect x="0" y="-3.75" width="16.12" height="7.50" rx="3" fill="url(#g_joint)" transform="translate(435.00,248.50) rotate(7.125)"/>
<rect x="0" y="-4.50" width="13.46" height="9.00" rx="3" fill="url(#g_joint)" transform="translate(1059.00,232.00) rotate(15.068)"/>
<rect x="0" y="-5.00" width="12.13" height="10.00" rx="4" fill="url(#g_ground)" transform="translate(1059.00,574.90) rotate(-8.531)"/>
<rect x="0" y="-4.50" width="17.59" height="9.00" rx="3" fill="url(#g_joint)" transform="translate(735.00,115.00) rotate(14.826)"/>
<rect x="0" y="-3.25" width="14.04" height="6.50" rx="3" fill="url(#g_ground)" transform="translate(435.00,561.80) rotate(-4.086)"/>
<rect x="0" y="-3.50" width="131.45" height="7.00" rx="0" fill="url(#g_eave)" transform="translate(304.75,230.45) rotate(7.761)"/>
<rect x="0" y="-3.00" width="135.34" height="6.00" rx="0" fill="url(#g_ground)" transform="translate(300.00,571.40) rotate(-4.068)"/>
<rect x="0" y="-5.00" width="87.92" height="10.00" rx="0" fill="url(#g_ground)" transform="translate(972.00,587.60) rotate(-8.305)"/>
<rect x="0" y="-3.33" width="130.26" height="6.65" rx="0" fill="url(#g_eave)" transform="translate(471.40,149.30) rotate(10.930)"/>
<rect x="0" y="-4.55" width="124.81" height="9.10" rx="0" fill="url(#g_rafr)" transform="translate(615.00,85.00) rotate(15.094)"/>
<rect x="0" y="-3.80" width="109.64" height="7.60" rx="0" fill="url(#g_rafr)" transform="translate(783.00,141.00) rotate(14.797)"/>
<rect x="0" y="-5.25" width="84.05" height="10.50" rx="0" fill="url(#g_rafr)" transform="translate(977.75,209.00) rotate(14.822)"/>
<rect x="0" y="-2.50" width="53.00" height="5.00" rx="0" fill="url(#g_tiev)" transform="translate(622.50,95.00) rotate(90.000)"/>
<rect x="0" y="-2.14" width="306.28" height="4.28" rx="0" fill="url(#g_tie)" transform="translate(477.00,155.50) rotate(-2.433)"/>
<ellipse cx="300.0" cy="571.5" rx="16.15" ry="2.2" fill="#6e6e6e"/>
<ellipse cx="975.0" cy="585.0" rx="20.7" ry="2.2" fill="#6e6e6e"/>
<rect x="0" y="-4.75" width="341.00" height="9.50" rx="0" fill="url(#g_post)" transform="translate(300.00,229.00) rotate(90.000)"/>
<polygon points="295.25,229.00 304.75,229.00 304.75,570.00 295.25,570.00" fill="url(#g_shade)"/>
<rect x="0" y="-4.75" width="30.00" height="9.50" rx="0" fill="url(#g_sleeve)" transform="translate(300.00,229.00) rotate(90.000)"/>
<rect x="0" y="-5.20" width="22.17" height="10.40" rx="0" fill="url(#g_ring)" transform="translate(300.00,467.70) rotate(90.000)"/>
<rect x="294.80" y="467.70" width="10.40" height="1" fill="#e8e8e8" opacity=".55"/>
<rect x="294.80" y="480.78" width="10.40" height="1" fill="#e8e8e8" opacity=".45"/>
<rect x="294.80" y="488.87" width="10.40" height="1" fill="#6a6a6a" opacity=".5"/>
<rect x="0" y="-5.00" width="11.00" height="10.00" rx="0" fill="url(#g_foot)" transform="translate(300.00,559.00) rotate(90.000)"/>
<rect x="0" y="-5.75" width="376.00" height="11.50" rx="0" fill="url(#g_post)" transform="translate(972.00,207.00) rotate(90.000)"/>
<polygon points="966.25,207.00 977.75,207.00 977.75,583.00 966.25,583.00" fill="url(#g_shade)"/>
<rect x="0" y="-5.75" width="30.00" height="11.50" rx="0" fill="url(#g_sleeve)" transform="translate(972.00,207.00) rotate(90.000)"/>
<rect x="0" y="-6.20" width="24.44" height="12.40" rx="0" fill="url(#g_ring)" transform="translate(972.00,470.20) rotate(90.000)"/>
<rect x="965.80" y="470.20" width="12.40" height="1" fill="#e8e8e8" opacity=".55"/>
<rect x="965.80" y="484.42" width="12.40" height="1" fill="#e8e8e8" opacity=".45"/>
<rect x="965.80" y="493.64" width="12.40" height="1" fill="#6a6a6a" opacity=".5"/>
<rect x="0" y="-6.00" width="11.00" height="12.00" rx="0" fill="url(#g_foot)" transform="translate(972.00,572.00) rotate(90.000)"/>
<rect x="0" y="-5.00" width="345.08" height="10.00" rx="0" fill="url(#g_dark)" transform="translate(300.00,226.90) rotate(-24.099)"/>
<rect x="0" y="-5.20" width="24.16" height="10.40" rx="0" fill="url(#g_joint)" transform="translate(306.30,224.08) rotate(-24.099)"/>
<rect x="0" y="-5.20" width="27.61" height="10.40" rx="0" fill="url(#g_joint)" transform="translate(448.05,160.68) rotate(-24.099)"/>
<rect x="0" y="-5.20" width="24.16" height="10.40" rx="0" fill="url(#g_joint)" transform="translate(583.50,100.09) rotate(-24.099)"/>
<rect x="0" y="-5.00" width="377.11" height="10.00" rx="0" fill="url(#g_rafr)" transform="translate(615.00,86.00) rotate(18.795)"/>
<rect x="0" y="-5.20" width="30.17" height="10.40" rx="0" fill="url(#g_dark)" transform="translate(615.00,86.00) rotate(18.795)"/>
<rect x="0" y="-5.20" width="37.71" height="10.40" rx="0" fill="url(#g_dark)" transform="translate(775.65,140.68) rotate(18.795)"/>
<rect x="0" y="-5.20" width="26.40" height="10.40" rx="0" fill="url(#g_dark)" transform="translate(947.01,199.00) rotate(18.795)"/>
<circle cx="301.0" cy="228.0" r="5.2" fill="#6a6a6a"/>
<circle cx="971.5" cy="207.5" r="5.8" fill="#777"/>
<circle cx="971.2" cy="207.2" r="2.9" fill="#a8a8a8"/>
<circle cx="982.2" cy="211.0" r="4.5" fill="#5e5e5e"/>
<circle cx="615.0" cy="86.5" r="5.0" fill="#777"/>
<rect x="0" y="-4.00" width="157.16" height="8.00" rx="0" fill="url(#g_eave)" transform="translate(144.00,210.73) rotate(6.968)"/>
<rect x="0" y="-3.00" width="162.41" height="6.00" rx="0" fill="url(#g_ground)" transform="translate(138.00,583.00) rotate(-4.096)"/>
<rect x="0" y="-5.00" width="107.14" height="10.00" rx="0" fill="url(#g_ground)" transform="translate(866.00,603.20) rotate(-8.372)"/>
<rect x="0" y="-3.50" width="148.84" height="7.00" rx="0" fill="url(#g_eave)" transform="translate(326.00,117.50) rotate(12.337)"/>
<rect x="0" y="-4.75" width="137.22" height="9.50" rx="0" fill="url(#g_rafr)" transform="translate(483.00,47.50) rotate(15.859)"/>
<rect x="0" y="-4.00" width="124.45" height="8.00" rx="0" fill="url(#g_rafr)" transform="translate(663.00,108.00) rotate(15.376)"/>
<rect x="0" y="-5.25" width="102.60" height="10.50" rx="0" fill="url(#g_rafr)" transform="translate(872.25,184.00) rotate(13.528)"/>
<rect x="0" y="-2.50" width="61.50" height="5.00" rx="0" fill="url(#g_tiev)" transform="translate(484.00,57.00) rotate(90.000)"/>
<rect x="0" y="-2.20" width="334.41" height="4.40" rx="0" fill="url(#g_tie)" transform="translate(326.00,126.50) rotate(-2.828)"/>
<ellipse cx="138.0" cy="591.5" rx="20.4" ry="2.2" fill="#6e6e6e"/>
<ellipse cx="869.0" cy="606.0" rx="22.5" ry="2.2" fill="#6e6e6e"/>
<rect x="0" y="-6.00" width="382.01" height="12.00" rx="0" fill="url(#g_post)" transform="translate(138.00,208.00) rotate(90.300)"/>
<polygon points="132.00,208.00 144.00,208.00 142.00,590.00 130.00,590.00" fill="url(#g_shade)"/>
<rect x="0" y="-6.00" width="34.00" height="12.00" rx="0" fill="url(#g_sleeve)" transform="translate(138.00,208.00) rotate(90.300)"/>
<rect x="0" y="-6.45" width="24.83" height="12.90" rx="0" fill="url(#g_ring)" transform="translate(136.60,475.40) rotate(90.300)"/>
<rect x="130.15" y="475.40" width="12.90" height="1" fill="#e8e8e8" opacity=".55"/>
<rect x="130.15" y="489.81" width="12.90" height="1" fill="#e8e8e8" opacity=".45"/>
<rect x="130.02" y="499.23" width="12.90" height="1" fill="#6a6a6a" opacity=".5"/>
<rect x="0" y="-6.25" width="11.00" height="12.50" rx="0" fill="url(#g_foot)" transform="translate(136.00,579.00) rotate(90.000)"/>
<rect x="0" y="-6.25" width="424.00" height="12.50" rx="0" fill="url(#g_post)" transform="translate(866.00,180.00) rotate(90.000)"/>
<polygon points="859.75,180.00 872.25,180.00 872.25,604.00 859.75,604.00" fill="url(#g_shade)"/>
<rect x="0" y="-6.25" width="34.00" height="12.50" rx="0" fill="url(#g_sleeve)" transform="translate(866.00,180.00) rotate(90.000)"/>
<rect x="0" y="-6.70" width="27.56" height="13.40" rx="0" fill="url(#g_ring)" transform="translate(866.00,476.80) rotate(90.000)"/>
<rect x="859.30" y="476.80" width="13.40" height="1" fill="#e8e8e8" opacity=".55"/>
<rect x="859.30" y="492.58" width="13.40" height="1" fill="#e8e8e8" opacity=".45"/>
<rect x="859.30" y="503.36" width="13.40" height="1" fill="#6a6a6a" opacity=".5"/>
<rect x="0" y="-6.50" width="11.00" height="13.00" rx="0" fill="url(#g_foot)" transform="translate(866.00,593.00) rotate(90.000)"/>
<rect x="0" y="-5.50" width="380.09" height="11.00" rx="0" fill="url(#g_dark)" transform="translate(138.00,208.00) rotate(-24.812)"/>
<rect x="0" y="-5.70" width="26.61" height="11.40" rx="0" fill="url(#g_joint)" transform="translate(144.90,204.81) rotate(-24.812)"/>
<rect x="0" y="-5.70" width="30.41" height="11.40" rx="0" fill="url(#g_joint)" transform="translate(300.15,133.04) rotate(-24.812)"/>
<rect x="0" y="-5.70" width="26.61" height="11.40" rx="0" fill="url(#g_joint)" transform="translate(448.50,64.45) rotate(-24.812)"/>
<rect x="0" y="-5.50" width="405.11" height="11.00" rx="0" fill="url(#g_rafr)" transform="translate(483.00,48.50) rotate(19.016)"/>
<rect x="0" y="-5.70" width="32.41" height="11.40" rx="0" fill="url(#g_dark)" transform="translate(483.00,48.50) rotate(19.016)"/>
<rect x="0" y="-5.70" width="40.51" height="11.40" rx="0" fill="url(#g_dark)" transform="translate(655.35,107.90) rotate(19.016)"/>
<rect x="0" y="-5.70" width="28.36" height="11.40" rx="0" fill="url(#g_dark)" transform="translate(839.19,171.26) rotate(19.016)"/>
<circle cx="139.0" cy="207.0" r="6.5" fill="#6a6a6a"/>
<circle cx="483.0" cy="49.0" r="5.5" fill="#777"/>
<rect x="0" y="-4.00" width="174.59" height="8.00" rx="0" fill="url(#g_ground)" transform="translate(136.50,586.50) rotate(1.805)"/>
<rect x="0" y="-5.00" width="205.04" height="10.00" rx="0" fill="url(#g_ground)" transform="translate(661.00,600.00) rotate(1.174)"/>
<ellipse cx="311.0" cy="596.0" rx="21" ry="2.6" fill="#6e6e6e"/>
<ellipse cx="661.0" cy="606.5" rx="21" ry="2.6" fill="#6e6e6e"/>
<rect x="0" y="-5.75" width="399.03" height="11.50" rx="0" fill="url(#g_post)" transform="translate(316.00,196.00) rotate(90.718)"/>
<polygon points="310.25,196.00 321.75,196.00 316.75,595.00 305.25,595.00" fill="url(#g_shade)"/>
<rect x="0" y="-5.75" width="0.01" height="11.50" rx="0" fill="url(#g_sleeve)" transform="translate(316.00,196.00) rotate(90.718)"/>
<rect x="0" y="-6.20" width="25.00" height="12.40" rx="0" fill="url(#g_ring)" transform="translate(312.47,478.00) rotate(90.718)"/>
<rect x="306.27" y="478.00" width="12.40" height="1" fill="#e8e8e8" opacity=".55"/>
<rect x="306.27" y="492.50" width="12.40" height="1" fill="#e8e8e8" opacity=".45"/>
<rect x="305.95" y="502.00" width="12.40" height="1" fill="#6a6a6a" opacity=".5"/>
<rect x="0" y="-6.00" width="11.00" height="12.00" rx="0" fill="url(#g_foot)" transform="translate(311.00,584.00) rotate(90.000)"/>
<rect x="0" y="-5.15" width="71.00" height="10.30" rx="0" fill="url(#g_post)" transform="translate(316.00,126.00) rotate(90.000)"/>
<rect x="0" y="-6.75" width="36.00" height="13.50" rx="0" fill="url(#g_post)" transform="translate(316.00,196.00) rotate(90.637)"/>
<rect x="309.2" y="196" width="13.5" height="1" fill="#999" opacity=".7"/><rect x="309" y="231" width="13.5" height="1" fill="#888" opacity=".7"/>
<rect x="0" y="-5.30" width="9.00" height="10.60" rx="0" fill="url(#g_sleeve)" transform="translate(316.00,126.00) rotate(90.000)"/>
<rect x="0" y="-6.25" width="424.01" height="12.50" rx="0" fill="url(#g_post)" transform="translate(663.40,181.00) rotate(90.324)"/>
<polygon points="657.15,181.00 669.65,181.00 667.25,605.00 654.75,605.00" fill="url(#g_shade)"/>
<rect x="0" y="-6.25" width="0.01" height="12.50" rx="0" fill="url(#g_sleeve)" transform="translate(663.40,181.00) rotate(90.324)"/>
<rect x="0" y="-6.70" width="27.00" height="13.40" rx="0" fill="url(#g_ring)" transform="translate(661.72,477.00) rotate(90.324)"/>
<rect x="655.02" y="477.00" width="13.40" height="1" fill="#e8e8e8" opacity=".55"/>
<rect x="655.02" y="492.50" width="13.40" height="1" fill="#e8e8e8" opacity=".45"/>
<rect x="654.87" y="503.00" width="13.40" height="1" fill="#6a6a6a" opacity=".5"/>
<rect x="0" y="-6.50" width="11.00" height="13.00" rx="0" fill="url(#g_foot)" transform="translate(661.00,594.00) rotate(90.000)"/>
<rect x="0" y="-5.45" width="70.00" height="10.90" rx="0" fill="url(#g_post)" transform="translate(663.20,112.00) rotate(89.836)"/>
<rect x="0" y="-7.10" width="41.60" height="14.20" rx="0" fill="url(#g_post)" transform="translate(663.40,181.40) rotate(90.275)"/>
<rect x="656.3" y="181.4" width="14.2" height="1" fill="#999" opacity=".7"/><rect x="656.1" y="222" width="14.2" height="1" fill="#888" opacity=".7"/>
<rect x="0" y="-5.60" width="9.50" height="11.20" rx="0" fill="url(#g_sleeve)" transform="translate(663.20,112.00) rotate(90.000)"/>
<rect x="0" y="-2.00" width="43.63" height="4.00" rx="0" fill="url(#g_tie)" transform="translate(465.00,63.60) rotate(-1.970)"/>
<path d="M138.6,226 L138.6,216 Q138.6,207.5 146,204 L160,197.6" fill="none" stroke="#5c5c5c" stroke-width="12" stroke-linecap="butt"/>
<path d="M137.6,226 L137.6,215 Q137.6,206.5 145,203 L159.5,196.4" fill="none" stroke="#8e8e8e" stroke-width="4"/>
<path d="M455,61.4 L474,52.6 Q483,48 492,51.5 L512,58.4" fill="none" stroke="#5e5e5e" stroke-width="11.5" stroke-linejoin="round"/>
<path d="M455,59.6 L474,50.8 Q483,46.2 492,49.7 L512,56.6" fill="none" stroke="#8e8e8e" stroke-width="3.5" stroke-linejoin="round"/>
<path d="M830,168.5 L856,177.6 Q865.3,181 865.3,190 L865.3,214" fill="none" stroke="#8c8c8c" stroke-width="12.3" stroke-linejoin="round"/>
<path d="M830,166.5 L856.5,175.8 Q867,179.5 867,190 L867,214" fill="none" stroke="#cfcfcf" stroke-width="5"/>
<path d="M829,172.6 L853,181 Q859.8,183.4 859.8,190" fill="none" stroke="#555" stroke-width="2.2"/>
<path d="M1276,281 L1285,283.8 Q1290.5,285.5 1290.5,291 L1290.5,300" fill="none" stroke="#8e8e8e" stroke-width="8.5" stroke-linejoin="round"/>
<path d="M1276,279.6 L1285.5,282.5 Q1291.6,284.4 1291.6,291 L1291.6,300" fill="none" stroke="#c4c4c4" stroke-width="3" stroke-linejoin="round"/>
<g id="labels">
<line x1="60.80" y1="53.00" x2="60.80" y2="581.60" stroke="#444" stroke-width="5"/>
<polygon points="60.80,39.50 53.30,54.50 68.30,54.50" fill="#444"/>
<polygon points="60.80,595.10 53.30,580.10 68.30,580.10" fill="#444"/>
<rect x="15" y="300" width="92" height="39" rx="10" fill="#fff"/>
<text transform="translate(60.65,328) scale(1.055,1)" font-size="23.3" fill="#333" text-anchor="middle">3,91 m</text>
<line x1="1347.80" y1="297.10" x2="1347.80" y2="531.00" stroke="#444" stroke-width="5"/>
<polygon points="1347.80,283.60 1340.30,298.60 1355.30,298.60" fill="#444"/>
<polygon points="1347.80,544.50 1340.30,529.50 1355.30,529.50" fill="#444"/>
<rect x="1316" y="393.6" width="64" height="40.5" rx="10" fill="#fff"/>
<text transform="translate(1347.9,420.9) scale(1.07,1)" font-size="23.3" fill="#333" text-anchor="middle">3 m</text>
<line x1="131.49" y1="636.88" x2="841.51" y2="657.12" stroke="#444" stroke-width="5"/>
<polygon points="118.00,636.50 132.79,643.92 133.19,629.93" fill="#444"/>
<polygon points="855.00,657.50 839.81,664.07 840.21,650.08" fill="#444"/>
<rect x="440" y="626" width="92" height="36" rx="10" fill="#fff"/>
<text transform="translate(486,652) scale(1.07,1)" font-size="23" fill="#333" text-anchor="middle">5 m</text>
<line x1="910.77" y1="653.02" x2="1293.73" y2="581.48" stroke="#444" stroke-width="5"/>
<polygon points="897.50,655.50 913.53,659.63 910.96,645.86" fill="#444"/>
<polygon points="1307.00,579.00 1293.54,588.64 1290.97,574.87" fill="#444"/>
<rect x="1058.4" y="596" width="88" height="36" rx="10" fill="#fff"/>
<text transform="translate(1100.7,621.9) scale(1.065,1)" font-size="23" fill="#333" text-anchor="middle">38 m</text>
<line x1="268.70" y1="168.38" x2="268.70" y2="577.32" stroke="#d00a0a" stroke-width="4.8"/>
<polygon points="268.70,154.70 261.20,169.90 276.20,169.90" fill="#d00a0a"/>
<polygon points="268.70,591.00 261.20,575.80 276.20,575.80" fill="#d00a0a"/>
<rect x="264" y="355.8" width="9.5" height="39.2" fill="#fff"/>
<rect x="225" y="359.5" width="85.5" height="32.2" rx="9" fill="#fff"/>
<text transform="translate(269,381.8) scale(1.085,1)" font-size="18.6" fill="#d00a0a" text-anchor="middle">3,31 m</text>
<line x1="342.94" y1="575.42" x2="616.56" y2="583.58" stroke="#d00a0a" stroke-width="5.4"/>
<polygon points="329.00,575.00 344.28,582.46 344.70,568.47" fill="#d00a0a"/>
<polygon points="630.50,584.00 614.80,590.53 615.22,576.54" fill="#d00a0a"/>
<rect x="435" y="562" width="89.5" height="33.5" rx="10" fill="#fff"/>
<text transform="translate(478.8,584.9) scale(1.085,1)" font-size="18.6" fill="#d00a0a" text-anchor="middle">2,62 m</text>
<circle cx="232" cy="165" r="16.9" fill="#323232"/>
<text x="232" y="172.5" font-size="18.4" fill="#fff" text-anchor="middle">1</text>
<circle cx="326" cy="123" r="16.9" fill="#323232"/>
<text x="326" y="130.5" font-size="18.4" fill="#fff" text-anchor="middle">2</text>
<circle cx="483.7" cy="91.8" r="16.9" fill="#323232"/>
<text x="483.7" y="99.3" font-size="18.4" fill="#fff" text-anchor="middle">3</text>
<circle cx="865" cy="476" r="16.9" fill="#323232"/>
<text x="865" y="483.5" font-size="18.4" fill="#fff" text-anchor="middle">4</text>
<circle cx="663" cy="427.5" r="16.9" fill="#323232"/>
<text x="663" y="435.0" font-size="18.4" fill="#fff" text-anchor="middle">5</text>
<circle cx="755.5" cy="602" r="16.9" fill="#323232"/>
<text x="755.5" y="609.5" font-size="18.4" fill="#fff" text-anchor="middle">6</text>
<circle cx="864.5" cy="604.5" r="16.9" fill="#323232"/>
<text x="864.5" y="612.0" font-size="18.4" fill="#fff" text-anchor="middle">7</text>
</g>
</svg></body></html>
